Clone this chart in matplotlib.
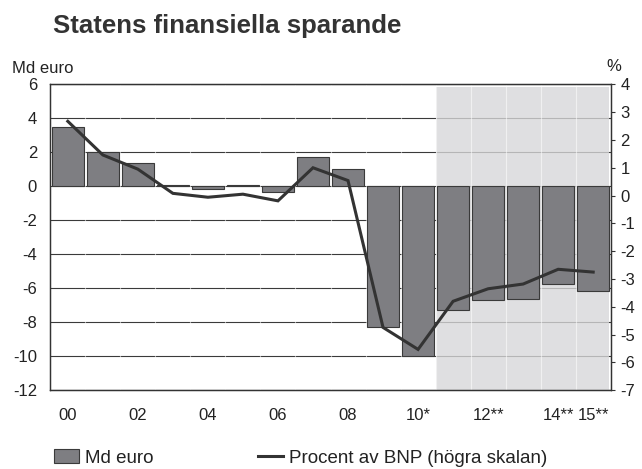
import numpy as np
import matplotlib.pyplot as plt
from matplotlib.patches import Patch
from matplotlib.lines import Line2D

plt.rcParams['font.family'] = ['Liberation Sans', 'DejaVu Sans']
plt.rcParams['axes.unicode_minus'] = False

# --- data ------------------------------------------------------------------
years = ["00", "01", "02", "03", "04", "05", "06", "07",
         "08", "09", "10", "11", "12", "13", "14", "15"]
md_euro = [3.5, 2.0, 1.35, 0.1, -0.15, 0.05, -0.35, 1.75,
           1.0, -8.25, -10.0, -7.3, -6.7, -6.65, -5.75, -6.15]
pct_bnp = [2.67, 1.46, 0.95, 0.08, -0.06, 0.05, -0.19, 1.0,
           0.54, -4.74, -5.53, -3.8, -3.35, -3.18, -2.65, -2.75]
tick_pos = [0, 2, 4, 6, 8, 10, 12, 14, 15]
tick_labels = ["00", "02", "04", "06", "08", "10*", "12**", "14**", "15**"]
forecast_from = 11

DARK = "#333333"
BAR = "#7e7e82"
TXT = "#222222"

fig = plt.figure(figsize=(6.42, 4.69), dpi=100)
ax = fig.add_axes([50.3 / 642, 1 - 390.3 / 469, 560.4 / 642, 306 / 469])
ax2 = ax.twinx()

x = np.arange(len(years))

# shaded forecast area, drawn over the grid so grid looks lighter there
ax.axvspan(forecast_from - 0.5, len(years) - 0.55, ymin=0, ymax=0.99,
           color="#d7d7d9", alpha=0.79, lw=0, zorder=2)
ax.set_yticks(np.arange(-12, 7, 2))
ax.grid(axis="y", color="#3a3a3a", lw=0.8, zorder=1)
ax.set_axisbelow(True)
# thin white separators between categories
for b in x[:-1] + 0.5:
    ax.axvline(b, color="white", lw=0.8, alpha=0.55, zorder=3)

ax.bar(x, md_euro, width=0.9, color=BAR, edgecolor="#3a3a3a", lw=0.8, zorder=4)
ax2.plot(x, pct_bnp, color=DARK, lw=2.2, solid_joinstyle="miter")

ax.set_xlim(-0.5, len(years) - 0.5)
ax.set_ylim(-12, 6)
ax2.set_ylim(-7, 4)
ax2.set_yticks(np.arange(-7, 5, 1))

ax.set_xticks(tick_pos)
ax.set_xticklabels(tick_labels)

ax.tick_params(axis="y", length=0, pad=9.5, labelsize=12, labelcolor=TXT)
ax.tick_params(axis="x", length=0, pad=13, labelsize=12, labelcolor=TXT)
ax2.tick_params(axis="y", length=3, width=0.8, color=DARK, direction="out",
                pad=4, labelsize=12, labelcolor=TXT)
for a in (ax, ax2):
    for s in a.spines.values():
        s.set_color(DARK)
        s.set_linewidth(0.9)
        s.set_zorder(6)

fig.text(53 / 642, 1 - 33 / 469, "Statens finansiella sparande",
         fontsize=18.5, fontweight="bold", color="#333333", ha="left", va="baseline")
fig.text(12 / 642, 1 - 73 / 469, "Md euro", fontsize=12, color=TXT,
         ha="left", va="baseline")
fig.text(614 / 642, 1 - 71 / 469, "%", fontsize=12, color=TXT,
         ha="center", va="baseline")

handles = [Patch(facecolor=BAR, edgecolor="#3a3a3a", lw=0.8),
           Line2D([], [], color=DARK, lw=2.2)]
fig.legend(handles, ["Md euro", "Procent av BNP (högra skalan)"],
           ncol=2, loc="center left", bbox_to_anchor=(54 / 642, 1 - 458 / 469),
           frameon=False, fontsize=13.5, borderpad=0, borderaxespad=0,
           handlelength=1.35, handleheight=0.75, handletextpad=0.28,
           columnspacing=5.6, labelcolor=TXT)

fig.savefig("out.png", dpi=100)
